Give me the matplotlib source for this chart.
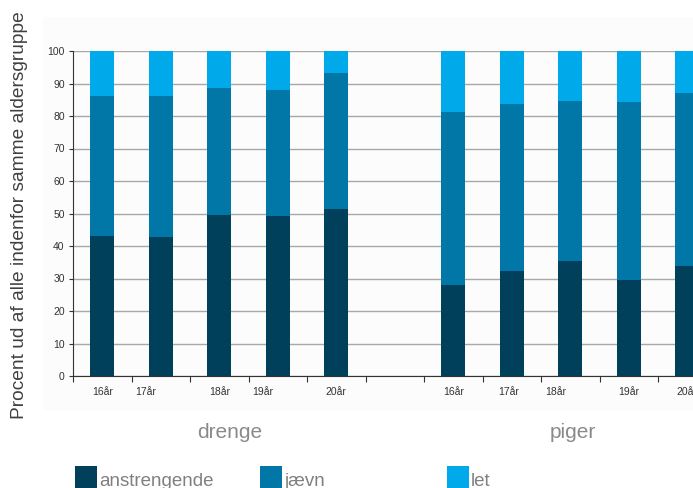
import matplotlib
matplotlib.use("Agg")
import matplotlib.pyplot as plt
from matplotlib.patches import Rectangle
import numpy as np

plt.rcParams['font.family'] = ['Liberation Sans', 'DejaVu Sans']

# slots: 5 drenge, 1 empty, 5 piger
slot_labels = ["16år", "17år", "18år", "19år", "20år", "", "16år", "17år", "18år", "19år", "20år"]
label_pos = [0, 0.75, 2, 2.75, 4, None, 6, 6.95, 7.75, 9, 10]
anstrengende = [43.1, 42.8, 49.5, 49.2, 51.4, 0, 28.0, 32.3, 35.4, 29.5, 33.8]
jaevn_top = [86.2, 86.2, 88.6, 88.0, 93.2, 0, 81.2, 83.7, 84.6, 84.3, 87.1]
jaevn = [t - a for t, a in zip(jaevn_top, anstrengende)]
let = [100 - t if t > 0 else 0 for t in jaevn_top]
groups = ["drenge", "piger"]
series_names = ["anstrengende", "jævn", "let"]
colors = ["#00405a", "#0077a6", "#00a9ea"]

W, H = 693, 488
fig = plt.figure(figsize=(W / 100, H / 100), dpi=100)
fig.patch.set_facecolor("white")
fig.patches.append(Rectangle((43 / W, 1 - 410 / H), 1, (410 - 17) / H,
                             transform=fig.transFigure, facecolor="#fcfcfc",
                             edgecolor="none", zorder=-5))

left, right = 73 / W, 716.5 / W
bottom, top = 1 - 376 / H, 1 - 51 / H
ax = fig.add_axes([left, bottom, right - left, top - bottom])
ax.set_facecolor("none")
ax.set_zorder(2)

x = np.arange(len(slot_labels))
bw = 0.41
b1 = ax.bar(x, anstrengende, bw, color=colors[0], zorder=3)
b2 = ax.bar(x, jaevn, bw, bottom=anstrengende, color=colors[1], zorder=3)
b3 = ax.bar(x, let, bw, bottom=jaevn_top, color=colors[2], zorder=3)

ax.set_xlim(-0.5, 10.5)
ax.set_ylim(0, 100)
ax.set_yticks(np.arange(0, 101, 10))
ax.yaxis.grid(True, color="#a8a8a8", linewidth=1)
ax.set_axisbelow(True)
for s in ["top", "right"]:
    ax.spines[s].set_visible(False)
ax.spines["left"].set_color("#333333")
ax.spines["bottom"].set_color("#333333")
ax.tick_params(axis="y", length=3, color="#333333", labelsize=7.5, labelcolor="#333333", pad=3)
ax.set_xticks(np.arange(-0.5, 10.6, 1))
ax.set_xticklabels([])
ax.tick_params(axis="x", length=4, color="#333333")

for lab, p in zip(slot_labels, label_pos):
    if p is None:
        continue
    ax.text(p, -5.0, lab, ha="center", va="center", fontsize=7.5, color="#333333",
            clip_on=False)

fig.text(230 / W, 1 - 432 / H, groups[0], ha="center", va="center", fontsize=15, color="#8a8a8a")
fig.text(573 / W, 1 - 432 / H, groups[1], ha="center", va="center", fontsize=15, color="#8a8a8a")

fig.text(20 / W, 1 - 215 / H, "Procent ud af alle indenfor samme aldersgruppe",
         rotation=90, ha="center", va="center", fontsize=13.8, color="#404040")

leg_x = [75, 260, 447]
for lx, name, c in zip(leg_x, series_names, colors):
    fig.patches.append(Rectangle((lx / W, 1 - 488 / H), 22 / W, 22 / H,
                                 transform=fig.transFigure, facecolor=c, edgecolor="none"))
    fig.text((lx + 24) / W, 1 - 486 / H, name, ha="left", va="baseline", fontsize=13.5,
             color="#808080")

fig.savefig("out.png", dpi=100)
